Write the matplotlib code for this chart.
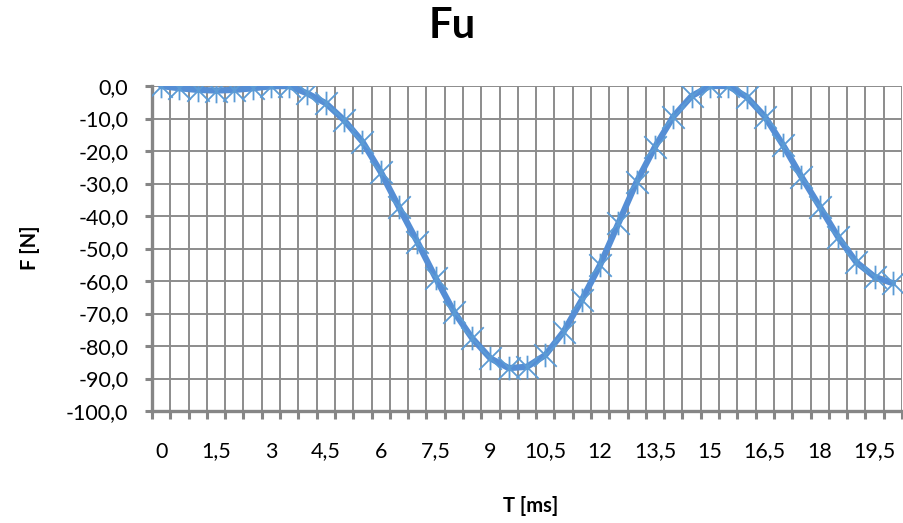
import matplotlib
matplotlib.use("Agg")
import matplotlib.pyplot as plt
from matplotlib.path import Path
from matplotlib.ticker import FixedLocator, FuncFormatter

# data
t_ms = [0.0, 0.5, 1.0, 1.5, 2.0, 2.5, 3.0, 3.5, 4.0, 4.5,
        5.0, 5.5, 6.0, 6.5, 7.0, 7.5, 8.0, 8.5, 9.0, 9.5,
        10.0, 10.5, 11.0, 11.5, 12.0, 12.5, 13.0, 13.5, 14.0, 14.5,
        15.0, 15.5, 16.0, 16.5, 17.0, 17.5, 18.0, 18.5, 19.0, 19.5, 20.0]
fu_N = [0.0, -0.7, -1.2, -1.4, -1.2, -0.7, -0.1, 0.0, -2.3, -5.3,
        -10.5, -17.1, -26.4, -37.3, -47.9, -59.0, -69.4, -77.6, -83.8, -86.8,
        -86.4, -82.8, -75.6, -65.8, -55.0, -42.2, -29.4, -18.7, -9.4, -3.1,
        0.0, 0.0, -3.3, -9.4, -18.2, -27.9, -37.1, -46.4, -54.2, -58.7, -60.7]
label_pos = [0, 1.5, 3, 4.5, 6, 7.5, 9, 10.5, 12, 13.5, 15, 16.5, 18, 19.5]
label_txt = ["0", "1,5", "3", "4,5", "6", "7,5", "9", "10,5", "12", "13,5",
             "15", "16,5", "18", "19,5"]

plt.rcParams['font.family'] = ['Lato', 'DejaVu Sans']

GRID = '#8c8c8c'
AXC = '#868686'
LINE = '#558ED5'
MARK = '#5B9BD5'

# Excel style star marker: an X with a vertical bar
star = Path([(-1, -1), (1, 1), (-1, 1), (1, -1), (0, -1.05), (0, 1.05)],
            [Path.MOVETO, Path.LINETO, Path.MOVETO, Path.LINETO, Path.MOVETO, Path.LINETO])

fig = plt.figure(figsize=(9.04, 5.23), dpi=100)
ax = fig.add_axes([152/904, 1-411/523, 750/904, 325/523])

step = t_ms[1] - t_ms[0]
ax.plot(t_ms, fu_N, color=LINE, lw=4.5, solid_joinstyle='round', solid_capstyle='round', zorder=3)
ax.plot(t_ms, fu_N, ls='none', marker=star, ms=17, mew=1.3, mec=MARK, mfc='none', zorder=4)

ax.set_xlim(t_ms[0] - step/2, t_ms[-1] + step/2)
ax.set_ylim(-100, 0)

# category boundaries for grid and tick marks
bounds = [v - step/2 for v in t_ms] + [t_ms[-1] + step/2]
ax.xaxis.set_minor_locator(FixedLocator(bounds))
ax.xaxis.set_major_locator(FixedLocator(label_pos))
ax.set_xticklabels(label_txt)
ax.tick_params(axis='x', which='major', length=0, pad=22, labelsize=15.5)
ax.tick_params(axis='x', which='minor', length=6, width=2.2, color=AXC, direction='out')

ax.set_yticks(list(range(-100, 1, 10)))
ax.yaxis.set_major_formatter(FuncFormatter(lambda v, p: f"{v:.1f}".replace('.', ',')))
ax.tick_params(axis='y', length=5, width=2.2, color=AXC, direction='out', pad=12, labelsize=15.5)

ax.grid(True, axis='x', which='minor', color=GRID, lw=1.4)
ax.grid(True, axis='y', which='major', color=GRID, lw=1.4)
ax.set_axisbelow(True)

for s in ['top', 'right']:
    ax.spines[s].set_visible(False)
for s in ['left', 'bottom']:
    ax.spines[s].set_color(AXC)
    ax.spines[s].set_linewidth(2.4)

fig.text(0.5, 1-38/523, "Fu", ha='center', va='baseline', fontsize=30, fontweight='bold')
fig.text(531/904, 1-512/523, "T [ms]", ha='center', va='baseline', fontsize=14.5, fontweight='bold')
fig.text(30/904, 1-248/523, "F [N]", ha='center', va='center', rotation=90, fontsize=14.5, fontweight='bold')

fig.savefig("out.png", dpi=100)
